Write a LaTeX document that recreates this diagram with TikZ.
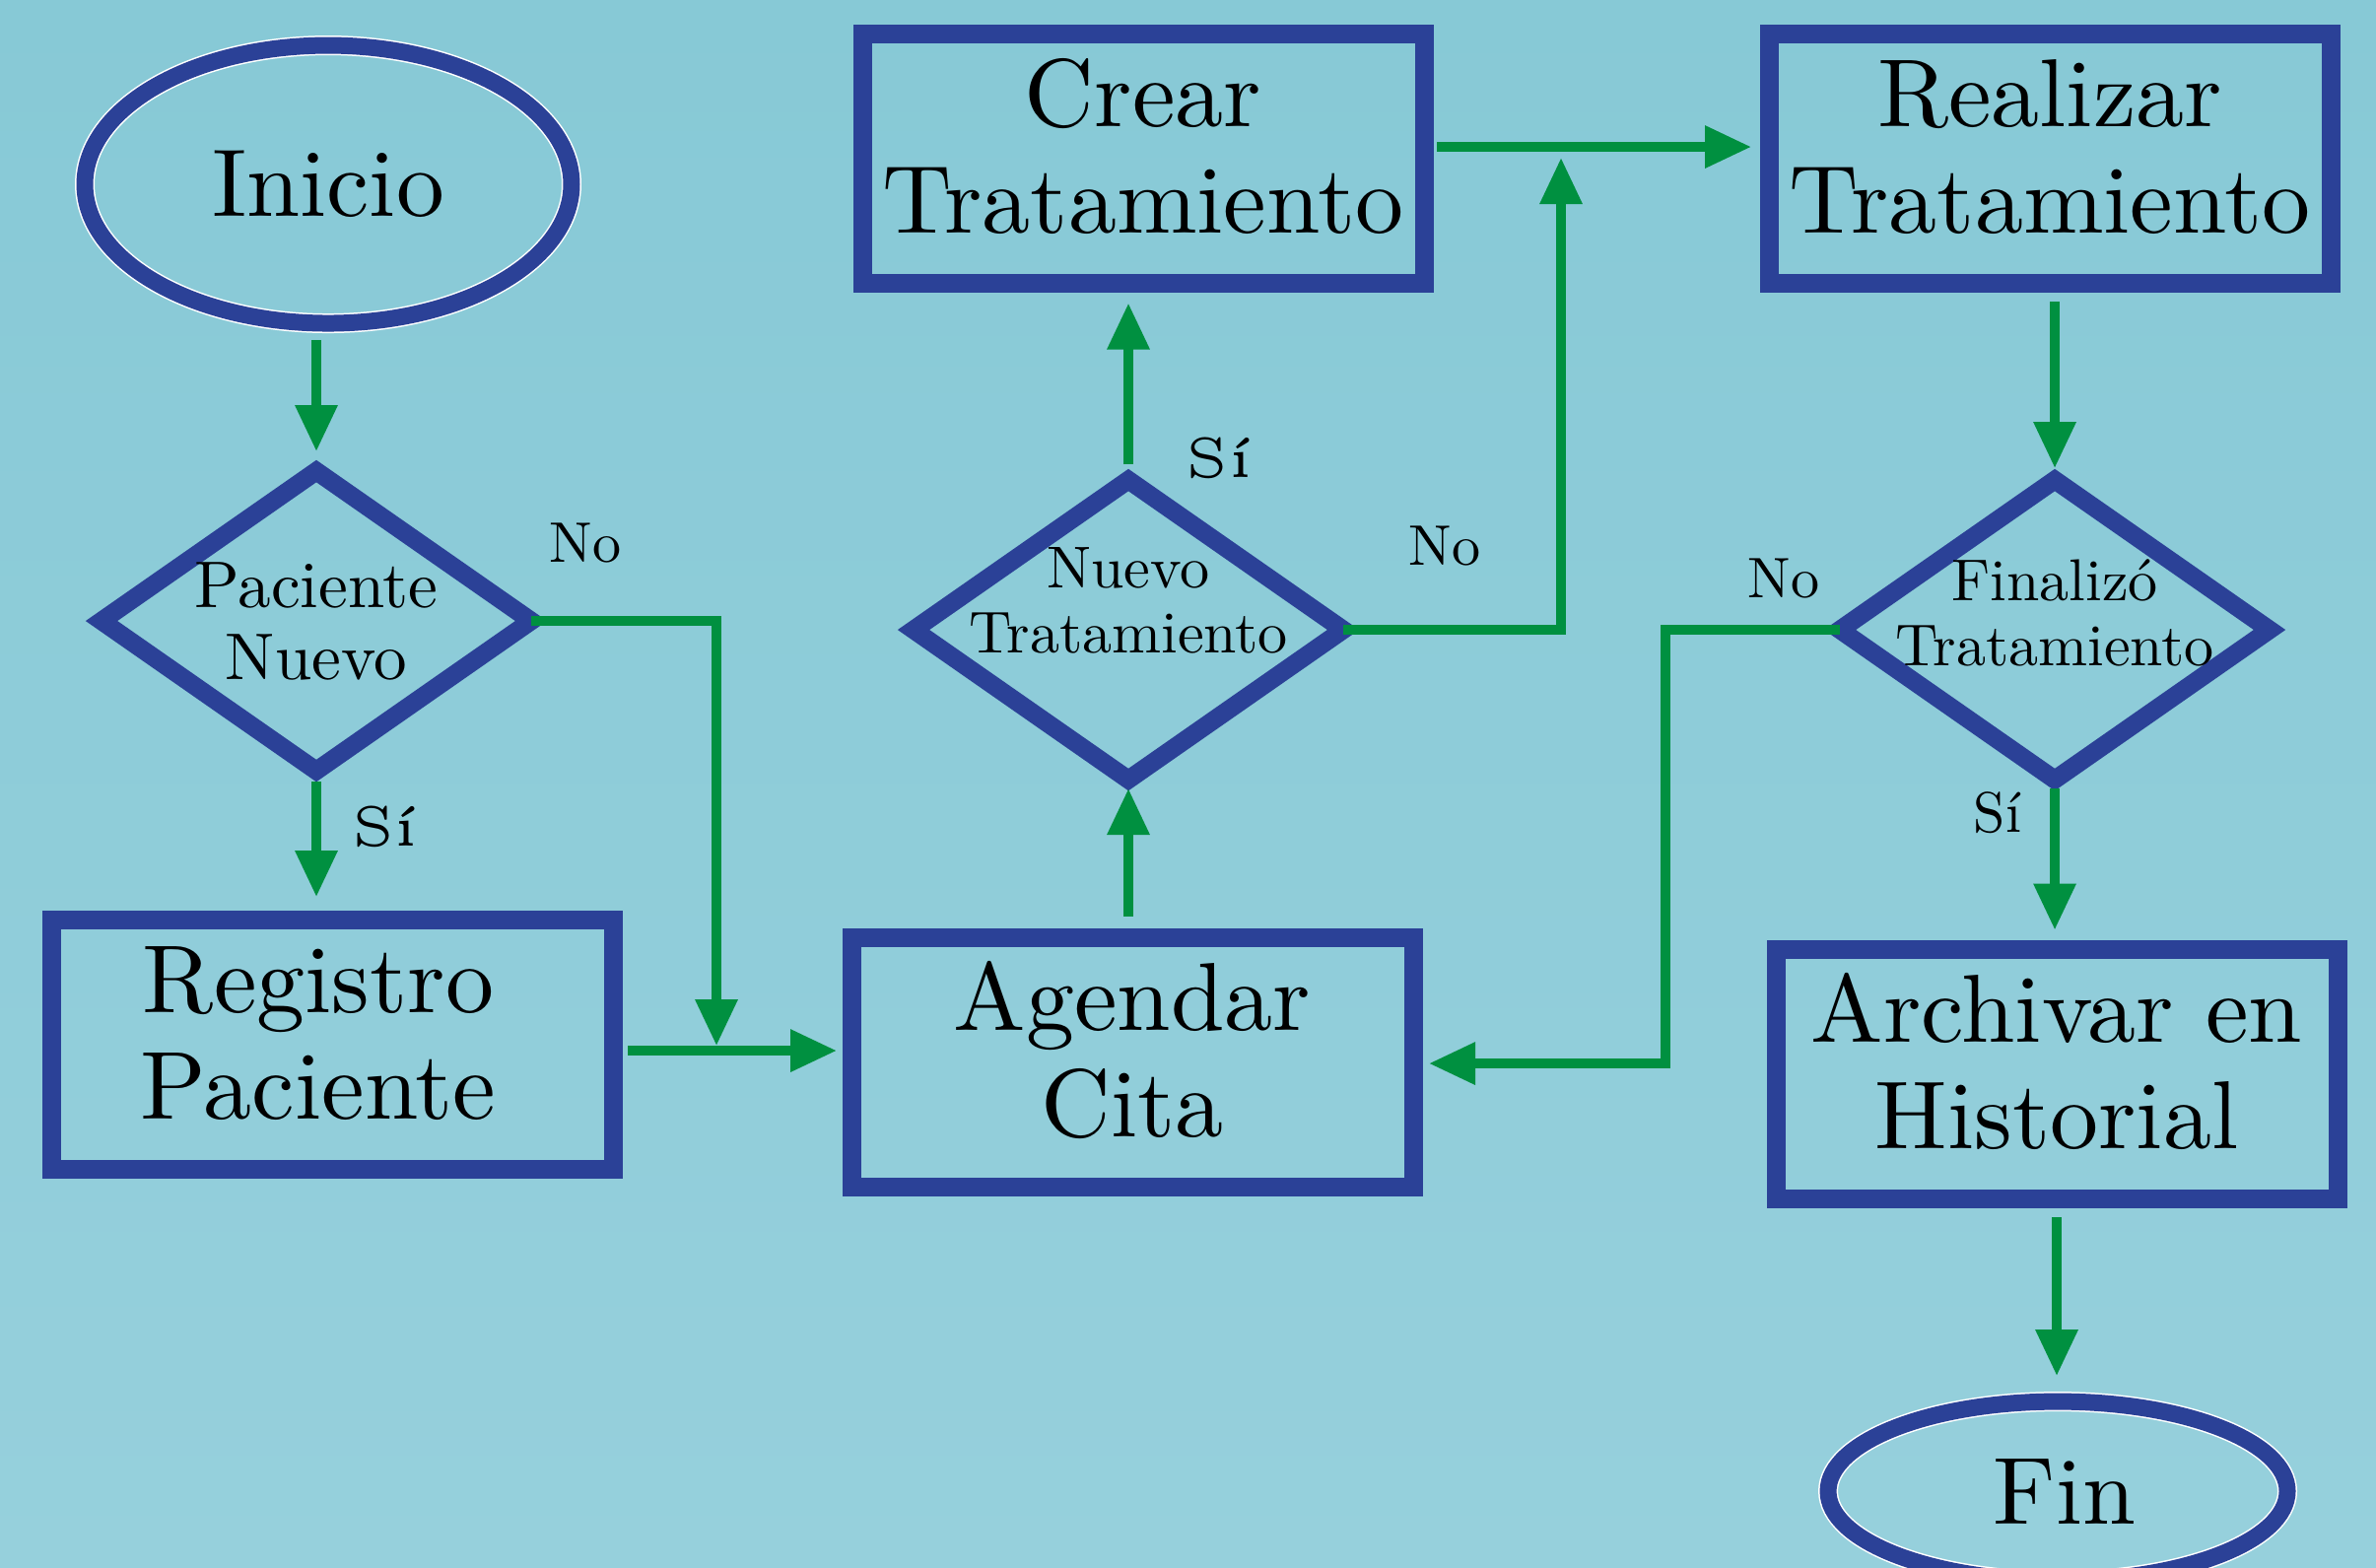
\documentclass[tikz,border=0pt]{standalone}
\usepackage{graphicx}
\usetikzlibrary{shapes.geometric,arrows.meta,calc}
\definecolor{bl}{RGB}{43,65,151}
\definecolor{gr}{RGB}{0,144,64}
\definecolor{bgtop}{RGB}{135,201,214}
\definecolor{bgbot}{RGB}{150,208,220}
\newcommand\bt[1]{\scalebox{0.98}{\fontsize{10}{11}\selectfont\begin{tabular}{@{}c@{}}#1\end{tabular}}}
\newcommand\dt[3]{\makebox[0pt]{\raisebox{#2}[0pt][0pt]{\scalebox{#1}{\fontsize{10}{11}\selectfont\begin{tabular}{@{}c@{}}#3\end{tabular}}}}}
\newcommand\lbn[1]{\scalebox{0.58}{\fontsize{10}{11}\selectfont #1}}
\newcommand\lbw[1]{\scalebox{1.15}{\fontsize{5}{6}\selectfont #1}}
\tikzset{
  box/.style={draw=bl, line width=1.9pt, minimum width=57pt, minimum height=25.3pt, inner sep=0pt, outer sep=0pt, align=center},
  dia/.style={diamond, draw=bl, line width=1.85pt, minimum width=43.6pt, minimum height=30.4pt, inner sep=0pt, outer sep=0pt},
  term/.style={ellipse, draw=white, double=bl, line width=0.15pt, double distance=1.7pt, inner sep=0pt, outer sep=0pt},
  arr/.style={draw=gr, line width=0.95pt, -{Triangle[length=4.7pt,width=4.1pt]}},
  lab/.style={inner sep=0pt}
}
\begin{document}
\begin{tikzpicture}[x=0.1pt, y=-0.1pt]
\useasboundingbox (0,0) rectangle (2411,1590);
\fill[top color=bgtop, bottom color=bgbot] (0,0) rectangle (2411,1590);
% nodes
\node[term, minimum width=49.4pt, minimum height=28.2pt] (ini) at (333,187) {\scalebox{0.975}{Inicio}};
\node[dia] (pn) at (321,630) {\dt{0.67}{-2.5pt}{Paciente\\Nuevo}};
\node[box] (reg) at (337,1060) {\bt{Registro\\Paciente}\hspace{2.8pt}};
\node[box] (ag) at (1149,1078) {\bt{Agendar\\Cita}};
\node[dia] (nt) at (1145,639) {\dt{0.6}{0.8pt}{Nuevo\\Tratamiento}};
\node[box] (cr) at (1160,161) {\bt{Crear\\Tratamiento}};
\node[box] (re) at (2080,161) {\bt{Realizar\\Tratamiento}};
\node[dia] (fz) at (2085,639) {\dt{0.6}{-0.5pt}{Finalizó\\Tratamiento}};
\node[box] (ar) at (2087,1090) {\bt{Archivar en\\Historial}};
\node[term, minimum width=46.6pt, minimum height=18.2pt] (fin) at (2088,1513) {\hspace{1.4pt}\scalebox{0.97}{Fin}};
% labels
\node[lab] (l1) at (594,551) {\lbn{No}};
\node[lab] (l2) at (391,839) {\lbw{Sí}};
\node[lab] (l3) at (1237,465) {\lbw{Sí}};
\node[lab] (l4) at (1466,554) {\lbn{No}};
\node[lab] (l5) at (1810,587) {\lbn{No}};
\node[lab] (l6) at (2027,825) {\lbn{Sí}};
% junctions
\coordinate (j1) at (727,1066);
\coordinate (j2) at (1584,149);
\coordinate (j3) at (1690,1079);
% connectors
\draw[arr, shorten <=1.7pt, shorten >=2pt] (pn.north |- ini.south) -- (pn.north);
\draw[arr, shorten <=1.1pt, shorten >=2.35pt] (pn.south) -- (pn.south |- reg.north);
\draw[arr, shorten >=0.5pt] (pn.east) -| (j1);
\draw[arr, shorten <=1.5pt, shorten >=1.5pt] (reg.east |- j1) -- (ag.west |- j1);
\draw[arr, shorten <=2.2pt, shorten >=0.9pt] (nt.south |- ag.north) -- (nt.south);
\draw[arr, shorten <=1.6pt, shorten >=2pt] (nt.north) -- (nt.north |- cr.south);
\draw[arr, shorten <=1.3pt, shorten >=1.8pt] ([yshift=1.2pt]cr.east) -- ([yshift=1.2pt]re.west);
\draw[arr, shorten >=1.1pt] (nt.east) -| (j2);
\draw[arr, shorten <=1.85pt, shorten >=1.2pt] (fz.north |- re.south) -- (fz.north);
\draw[arr, shorten <=0.9pt, shorten >=2pt] (fz.south) -- (fz.south |- ar.north);
\draw[arr, shorten >=1.6pt] (fz.west) -| (j3) -- (j3 -| ag.east);
\draw[arr, shorten <=1.85pt, shorten >=2.6pt] (ar.south) -- (ar.south |- fin.north);
\end{tikzpicture}
\end{document}
